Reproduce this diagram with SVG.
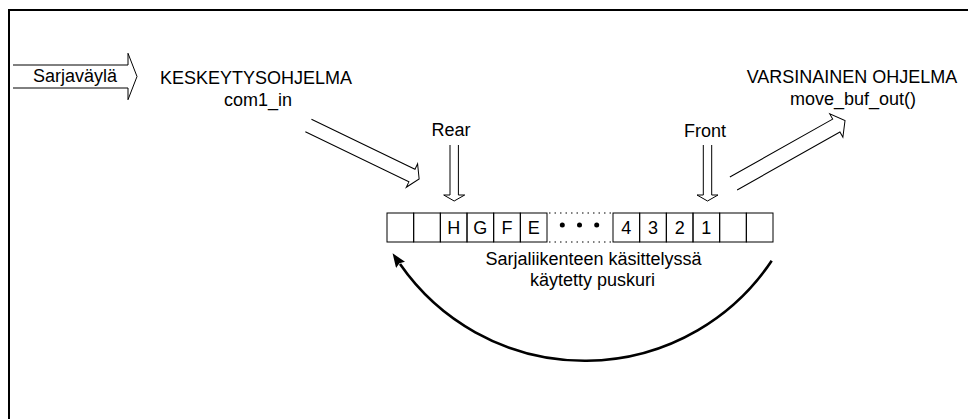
<svg xmlns="http://www.w3.org/2000/svg" width="968" height="419" viewBox="0 0 968 419">
  <style>
    text { font-family: "Liberation Sans", Arial, sans-serif; font-size: 18px; fill: #000; }
    .mid { text-anchor: middle; }
    .hollow { fill: none; stroke: #000; stroke-width: 1; stroke-linejoin: miter; }
    .cell { fill: none; stroke: #000; stroke-width: 1; }
    .dotted { fill: none; stroke: #000; stroke-width: 1.2; stroke-dasharray: 1.5 4; }
    .frame { fill: none; stroke: #000; stroke-width: 2; }
    .wrap { fill: none; stroke: #000; stroke-width: 2.6; }
  </style>
  <defs>
    <marker id="head" viewBox="0 0 14 11" markerWidth="14" markerHeight="11" refX="1" refY="5.5" orient="auto" markerUnits="userSpaceOnUse">
      <path d="M0,0 L14,5.5 L0,11 L2,5.5 z" fill="#000"/>
    </marker>
  </defs>

  <!-- outer frame: top and left edges only -->
  <g id="frame">
    <path class="frame" d="M9,419 V10 H968"/>
  </g>

  <!-- serial bus input arrow -->
  <g id="serial-bus">
    <path class="hollow" d="M13,65 H128 V53.3 L137,76.5 L128,99.7 V88 H13"/>
    <text class="mid" x="75" y="82">Sarjaväylä</text>
  </g>

  <!-- interrupt routine -->
  <g id="interrupt-routine">
    <text class="mid" x="256" y="84">KESKEYTYSOHJELMA</text>
    <text class="mid" x="258" y="106">com1_in</text>
  </g>

  <!-- main program -->
  <g id="main-program">
    <text class="mid" x="852" y="83">VARSINAINEN OHJELMA</text>
    <text class="mid" x="853" y="105">move_buf_out()</text>
  </g>

  <!-- rear pointer -->
  <g id="rear">
    <text class="mid" x="451" y="136">Rear</text>
    <path class="hollow" transform="translate(454.2,145) rotate(90)" d="M0,-4.2 H50 V-10.5 L56,0 L50,10.5 V4.2 H0"/>
  </g>

  <!-- front pointer -->
  <g id="front">
    <text class="mid" x="705" y="137">Front</text>
    <path class="hollow" transform="translate(707.5,145) rotate(90)" d="M0,-4.2 H50 V-10.5 L56,0 L50,10.5 V4.2 H0"/>
  </g>

  <!-- ring buffer -->
  <g id="buffer">
    <rect class="cell" x="387" y="213" width="26.67" height="29"/>
    <rect class="cell" x="413.67" y="213" width="26.67" height="29"/>
    <rect class="cell" x="440.33" y="213" width="26.67" height="29"/>
    <rect class="cell" x="467" y="213" width="26.67" height="29"/>
    <rect class="cell" x="493.67" y="213" width="26.67" height="29"/>
    <rect class="cell" x="520.33" y="213" width="26.67" height="29"/>
    <path class="dotted" d="M549,213 H612 M549,242 H612"/>
    <rect class="cell" x="613" y="213" width="26.67" height="29"/>
    <rect class="cell" x="639.67" y="213" width="26.67" height="29"/>
    <rect class="cell" x="666.33" y="213" width="26.67" height="29"/>
    <rect class="cell" x="693" y="213" width="26.67" height="29"/>
    <rect class="cell" x="719.67" y="213" width="26.67" height="29"/>
    <rect class="cell" x="746.33" y="213" width="26.67" height="29"/>
    <text class="mid" x="453.7" y="234">H</text>
    <text class="mid" x="480.3" y="234">G</text>
    <text class="mid" x="507" y="234">F</text>
    <text class="mid" x="533.7" y="234">E</text>
    <circle cx="562.3" cy="225" r="2.5"/>
    <circle cx="579.5" cy="225" r="2.5"/>
    <circle cx="596.7" cy="225" r="2.5"/>
    <text class="mid" x="626.3" y="234">4</text>
    <text class="mid" x="653" y="234">3</text>
    <text class="mid" x="679.7" y="234">2</text>
    <text class="mid" x="706.3" y="234">1</text>
  </g>

  <!-- buffer caption -->
  <g id="caption">
    <text class="mid" x="593.5" y="265">Sarjaliikenteen käsittelyssä</text>
    <text class="mid" x="592.5" y="286">käytetty puskuri</text>
  </g>

  <!-- connectors -->
  <g id="connectors">
    <path class="hollow" transform="translate(308.4,125.5) rotate(25.8)" d="M0,-7 H115 V-13 L123,0 L115,13 V7 H0"/>
    <path class="hollow" transform="translate(733.5,183.5) rotate(-29.4)" d="M0,-7.4 H118 V-13.4 L128,0 L118,13.4 V7.4 H0"/>
    <path class="wrap" d="M771.7,260.7 A224.8,224.8 0 0 1 400,264" marker-end="url(#head)"/>
  </g>
</svg>
